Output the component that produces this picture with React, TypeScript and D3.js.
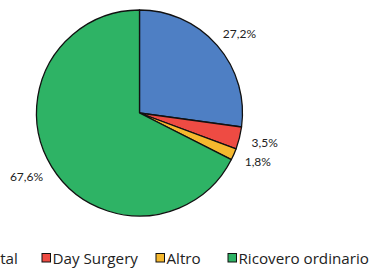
import { useEffect, useRef } from 'react';
import * as d3 from 'd3';

const categories = ['Day Hospital', 'Day Surgery', 'Altro', 'Ricovero ordinario'];
const values = [27.2, 3.5, 1.8, 67.6];
const labels = ['27,2%', '3,5%', '1,8%', '67,6%'];
const colors = ['#4e7fc4', '#ee4b43', '#f5b82e', '#2eb365'];

// legend swatch positions (the first item is cut off on the left in the original)
const legendX = [-82, 42, 156, 228];

const width = 374;
const height = 268;

const App = () => {
  const svgRef = useRef<SVGSVGElement>(null);

  useEffect(() => {
    if (!svgRef.current) return;
    const svg = d3.select(svgRef.current);
    svg.selectAll('*').remove();

    const cx = 139.5;
    const cy = 113;
    const radius = 103;
    const labelGap = 13;

    const pie = d3
      .pie<number>()
      .sort(null)
      .value((d) => d);
    const arcs = pie(values);

    const arc = d3.arc<d3.PieArcDatum<number>>().innerRadius(0).outerRadius(radius);

    const g = svg.append('g').attr('transform', `translate(${cx},${cy})`);

    g.selectAll('path')
      .data(arcs)
      .join('path')
      .attr('d', arc)
      .attr('fill', (_, i) => colors[i])
      .attr('stroke', '#111')
      .attr('stroke-width', 1.3)
      .attr('stroke-linejoin', 'round');

    // labels placed outside the end, box pushed away from the edge like Excel does
    g.selectAll('text')
      .data(arcs)
      .join('text')
      .attr('text-anchor', 'middle')
      .attr('dominant-baseline', 'central')
      .attr('font-family', 'Lato, sans-serif')
      .attr('font-size', 12)
      .attr('fill', '#222')
      .text((_, i) => labels[i])
      .each(function (d) {
        const el = this as SVGTextElement;
        const w = el.getComputedTextLength();
        const h = 10;
        const a = (d.startAngle + d.endAngle) / 2;
        const r = radius + labelGap;
        const x = Math.sin(a) * r + (Math.sin(a) * w) / 2;
        const y = -Math.cos(a) * r - (Math.cos(a) * h) / 2;
        d3.select(el).attr('transform', `translate(${x},${y})`);
      });

    // Legend
    const legend = svg.append('g').attr('transform', 'translate(0,257.5)');
    const items = legend
      .selectAll('g')
      .data(categories)
      .join('g')
      .attr('transform', (_, i) => `translate(${legendX[i]},0)`);

    items
      .append('rect')
      .attr('x', 0)
      .attr('y', -4)
      .attr('width', 8.5)
      .attr('height', 8.5)
      .attr('fill', (_, i) => colors[i])
      .attr('stroke', '#111')
      .attr('stroke-width', 1);

    items
      .append('text')
      .attr('x', 10.5)
      .attr('y', 0)
      .attr('dominant-baseline', 'central')
      .attr('font-family', '"Open Sans", sans-serif')
      .attr('font-size', 15.2)
      .attr('fill', '#222')
      .text((d) => d);
  }, []);

  return (
    <svg
      ref={svgRef}
      width={width}
      height={height}
      style={{ position: 'absolute', left: 0, top: 0, background: '#fff' }}
    />
  );
};

export default App;
